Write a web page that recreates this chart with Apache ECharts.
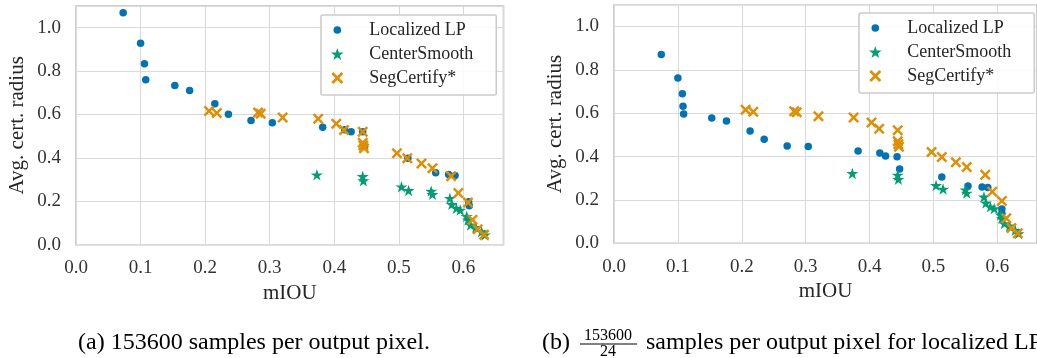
<!DOCTYPE html>
<html>
<head>
<meta charset="utf-8">
<script src="https://cdn.jsdelivr.net/npm/echarts@6/dist/echarts.min.js"></script>
<style>
html,body{margin:0;padding:0;background:#fff;}
#chart{width:1037px;height:358px;}
</style>
</head>
<body>
<div id="chart"></div>
<script>
// ---- data (mIOU, avg. certified radius) ----
var seriesNames = ['Localized LP', 'CenterSmooth', 'SegCertify*'];

// panel (a): 153600 samples per output pixel
var localizedLP_a = [
  [0.073,1.069],[0.100,0.928],[0.106,0.834],[0.108,0.760],[0.153,0.734],[0.176,0.711],
  [0.215,0.650],[0.236,0.601],[0.271,0.572],[0.304,0.562],[0.382,0.541],[0.416,0.530],
  [0.426,0.521],[0.444,0.521],[0.447,0.452],[0.514,0.398],[0.557,0.332],[0.577,0.323],
  [0.587,0.319],[0.608,0.198],[0.609,0.180]
];
// panel (b): 153600/24 samples per output pixel for localized LP
var localizedLP_b = [
  [0.074,0.870],[0.100,0.762],[0.107,0.690],[0.108,0.632],[0.109,0.596],[0.153,0.578],
  [0.176,0.564],[0.213,0.518],[0.235,0.480],[0.271,0.449],[0.304,0.446],[0.382,0.426],
  [0.416,0.416],[0.425,0.402],[0.443,0.399],[0.447,0.342],[0.513,0.306],[0.554,0.264],
  [0.576,0.259],[0.585,0.257],[0.607,0.158],[0.607,0.138]
];
// shared by both panels
var centerSmooth = [
  [0.373,0.322],[0.444,0.315],[0.445,0.295],[0.504,0.267],[0.515,0.250],[0.550,0.247],
  [0.552,0.232],[0.579,0.214],[0.582,0.186],[0.589,0.168],[0.595,0.160],[0.605,0.131],
  [0.607,0.114],[0.611,0.091],[0.619,0.080],[0.628,0.060],[0.633,0.045]
];
var segCertify = [
  [0.206,0.616],[0.218,0.607],[0.282,0.609],[0.286,0.604],[0.320,0.586],[0.375,0.580],
  [0.403,0.557],[0.415,0.528],[0.444,0.521],[0.444,0.470],[0.445,0.457],[0.446,0.445],
  [0.497,0.421],[0.513,0.398],[0.535,0.374],[0.552,0.352],[0.581,0.316],[0.592,0.238],
  [0.607,0.195],[0.614,0.115],[0.622,0.071],[0.632,0.046]
];
var xTickStep = 0.1, yTickStep = 0.2;
var captionA = '(a) 153600 samples per output pixel.';
var captionBNum = '153600', captionBDen = '24';
var captionBRest = 'samples per output pixel for localized LP';

// ---- styles ----
var C_BLUE = '#0173b2', C_GREEN = '#029e73', C_ORANGE = '#de8f05';
var SERIF = "'Liberation Serif', 'DejaVu Serif', serif";
var STAR = 'path://M10,0L12.245,6.91L19.511,6.91L13.633,11.18L15.878,18.09L10,13.82L4.122,18.09L6.367,11.18L0.489,6.91L7.755,6.91Z';
var CROSS = 'path://M0,1.6L1.6,0L5,3.4L8.4,0L10,1.6L6.6,5L10,8.4L8.4,10L5,6.6L1.6,10L0,8.4L3.4,5Z';
var DOT_LEG = 'path://M0,0M11,11M9,5.5A3.5,3.5 0 1 1 2,5.5A3.5,3.5 0 1 1 9,5.5Z';

var grids = [
  {left:76, top:6, width:427.5, height:238.7},
  {left:614, top:4.7, width:428, height:238.6}
];

function mkGrid(g){
  return Object.assign({show:true, borderColor:'#c2c2c2', borderWidth:1.6, backgroundColor:'rgba(0,0,0,0)', containLabel:false}, g);
}
function mkX(i){
  return {
    gridIndex:i, type:'value', min:0, max:0.662, interval:xTickStep,
    name:'mIOU', nameLocation:'middle', nameGap:38,
    nameTextStyle:{fontFamily:SERIF, fontSize:21, color:'#262626'},
    axisLine:{show:false}, axisTick:{show:false},
    axisLabel:{formatter:function(v){return v.toFixed(1);}, showMaxLabel:false, margin:14,
      fontFamily:SERIF, fontSize:19, color:'#333'},
    splitLine:{show:true, lineStyle:{color:'#dadada', width:1.1}}
  };
}
function mkY(i){
  return {
    gridIndex:i, type:'value', min:0, max:1.1, interval:yTickStep,
    name:'Avg. cert. radius', nameLocation:'middle', nameGap:48,
    nameTextStyle:{fontFamily:SERIF, fontSize:21, color:'#262626'},
    axisLine:{show:false}, axisTick:{show:false},
    axisLabel:{formatter:function(v){return v.toFixed(1);}, showMaxLabel:false, margin:15,
      fontFamily:SERIF, fontSize:19, color:'#333'},
    splitLine:{show:true, lineStyle:{color:'#dadada', width:1.1}}
  };
}
function mkSeries(i, lp){
  return [
    {name:seriesNames[0], type:'scatter', xAxisIndex:i, yAxisIndex:i, data:lp,
     symbol:'circle', symbolSize:7.5, itemStyle:{color:C_BLUE, opacity:1}},
    {name:seriesNames[1], type:'scatter', xAxisIndex:i, yAxisIndex:i, data:centerSmooth,
     symbol:STAR, symbolKeepAspect:true, symbolSize:12, itemStyle:{color:C_GREEN, opacity:1}},
    {name:seriesNames[2], type:'scatter', xAxisIndex:i, yAxisIndex:i, data:segCertify,
     symbol:CROSS, symbolKeepAspect:true, symbolSize:11, itemStyle:{color:C_ORANGE, opacity:1}}
  ];
}
function mkLegend(left, top){
  return {
    left:left, top:top, orient:'vertical', selectedMode:false,
    itemWidth:30, itemHeight:12, itemGap:6,
    padding:[6, 23, 8, 10],
    backgroundColor:'rgba(255,255,255,0.85)', borderColor:'#cccccc', borderWidth:1.6, borderRadius:2,
    textStyle:{fontFamily:SERIF, fontSize:18, color:'#262626', lineHeight:18, padding:[0,0,0,12]},
    data:[
      {name:seriesNames[0], icon:DOT_LEG},
      {name:seriesNames[1], icon:STAR},
      {name:seriesNames[2], icon:CROSS}
    ]
  };
}

var chart = echarts.init(document.getElementById('chart'), null, {renderer:'canvas'});
chart.setOption({
  animation:false,
  backgroundColor:'#ffffff',
  grid:[mkGrid(grids[0]), mkGrid(grids[1])],
  xAxis:[mkX(0), mkX(1)],
  yAxis:[mkY(0), mkY(1)],
  legend:[mkLegend(321, 15), mkLegend(859, 13)],
  series:[].concat(mkSeries(0, localizedLP_a), mkSeries(1, localizedLP_b)),
  graphic:[
    {type:'text', left:78, top:331, style:{text:captionA, font:"24px 'Liberation Serif'", fill:'#000'}},
    {type:'text', left:542, top:331, style:{text:'(b)', font:"24px 'Liberation Serif'", fill:'#000'}},
    {type:'text', x:608, y:336, style:{text:captionBNum, font:"16px 'Liberation Serif'", fill:'#000', align:'center', verticalAlign:'middle'}},
    {type:'line', shape:{x1:580, y1:344, x2:637, y2:344}, style:{stroke:'#000', lineWidth:1}},
    {type:'text', x:608, y:352, style:{text:captionBDen, font:"16px 'Liberation Serif'", fill:'#000', align:'center', verticalAlign:'middle'}},
    {type:'text', left:646, top:331, style:{text:captionBRest, font:"24px 'Liberation Serif'", fill:'#000'}}
  ]
});
</script>
</body>
</html>
